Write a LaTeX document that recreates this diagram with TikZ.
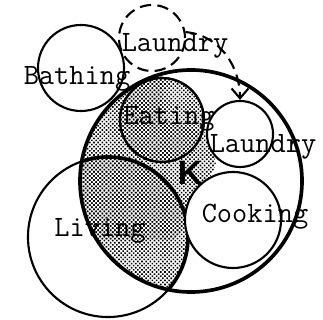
\documentclass[tikz,border=0pt]{standalone}
\usepackage{fontspec}
\newfontfamily\ksans{Liberation Sans}
\usetikzlibrary{arrows.meta,patterns.meta}

\begin{document}
\begin{tikzpicture}[x=0.025cm,y=-0.025cm,
  room/.style={circle, draw, line width=1.5pt, inner sep=0pt},
  whiteroom/.style={room, fill=white},
  lbl/.style={font=\ttfamily\fontsize{21}{23}\selectfont, inner sep=0pt, anchor=base},
  halftone/.style={pattern={Dots[distance=2.1pt,radius=0.8pt,angle=45]}},
  dashline/.style={line width=1.5pt, dash pattern=on 8pt off 4.5pt}]
  \useasboundingbox (0,0) rectangle (323,320);

  \node[room, minimum size=4cm] (living) at (108,237) {};
  \node[room, minimum size=5.55cm, line width=2.6pt] (home) at (191,181) {};
  \node[room, minimum size=2.1cm] (eating) at (162,120) {};

  \begin{scope}
    \clip (home.center) circle[radius=2.775cm];
    \fill[halftone] (living.center) circle[radius=2cm];
    \fill[halftone] (eating.center) circle[radius=1.05cm];
    \fill[halftone] (60,60) -- (163,70) -- (162,120) -- (210,134) -- (216,165)
      -- (188,220) -- (175,240) -- (60,240) -- cycle;
    \draw[line width=2.6pt] (living.center) circle[radius=2cm];
  \end{scope}

  \node[room, minimum size=2.1cm] at (eating) {};
  \node[whiteroom, minimum size=1.65cm] (laundry) at (240,134) {};
  \node[whiteroom, minimum size=2.4cm] (cooking) at (233,220) {};
  \node[room, minimum size=2.15cm] (bathing) at (81,68) {};
  \node[room, dashline, minimum size=1.65cm] (dlaundry) at (152,38) {};

  \node[lbl] (tdlaundry) at (175,52) {Laundry};
  \node[lbl] (tbathing) at (77,85) {Bathing};
  \node[lbl] (teating) at (169,125) {Eating};
  \node[lbl] (tlaundry) at (263,153) {Laundry};
  \node[lbl] (tcooking) at (255,223) {Cooking};
  \node[lbl] (tliving) at (100,237) {Living};

  \node[font=\ksans\bfseries\fontsize{24}{26}\selectfont, inner sep=0pt, anchor=base] (kmark) at (190,185) {K};

  \draw[dashline, -{Straight Barb[length=7pt,width=12pt]}]
    (dlaundry.10) to[out=-5, in=90] (laundry.north);
\end{tikzpicture}
\end{document}
